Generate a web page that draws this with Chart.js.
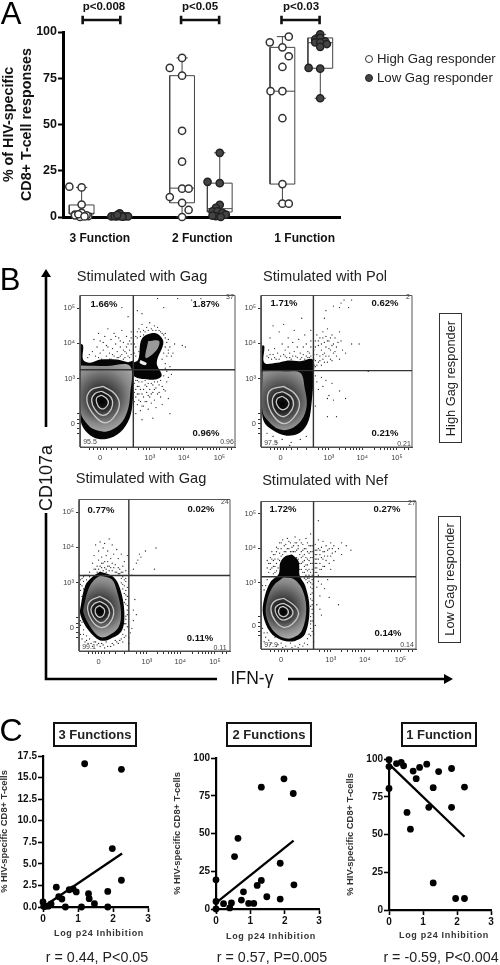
<!DOCTYPE html>
<html>
<head>
<meta charset="utf-8">
<script src="https://cdn.jsdelivr.net/npm/chart.js@4"></script>
<style>
  html, body { margin: 0; background: #fff; }
  #page { position: relative; width: 500px; height: 965px; overflow: hidden; filter: blur(0.45px); font-family: "Liberation Sans", Arial, sans-serif; color: #111; }
  #page canvas { position: absolute; }
  .t { position: absolute; white-space: nowrap; transform: translate(-50%, -50%); line-height: 1; }
  .boxed { position: absolute; border: 2.4px solid #111; box-sizing: border-box; display: flex; align-items: center; justify-content: center; }
  #arrows { position: absolute; left: 0; top: 0; }
</style>
</head>
<body>
<div id="page">
  <svg id="arrows" width="500" height="965">
    <path d="M46 427V276M46 513V679H217M288 679H445" fill="none" stroke="#000" stroke-width="2.6"/>
    <path d="M46 269l-5 8h10zM453 679l-9-5v10z" fill="#000"/>
  </svg>
</div>
<script>
// panel A: function categories
var functionLabels = ['3 Function', '2 Function', '1 Function'];
var responseTicks = [0, 25, 50, 75, 100];

var high3x = [.702, .822, .822, .757, .822, .887, .806, .757, .87, .79, .85];
var high3y = [16.4, 16, 6.7, 1.3, 2.2, .4, 0, .9, .9, 1.5, .3];
var low3x = [1.113, 1.162, 1.194, 1.243, 1.275, 1.145, 1.194, 1.22, 1.17];
var low3y = [.3, .3, 2, .3, .3, .4, .5, .2, 1.1];
var high2x = [1.803, 1.683, 1.803, 1.803, 1.803, 1.803, 1.867, 1.683, 1.803, 1.867, 1.803];
var high2y = [86, 80.6, 76.4, 46.6, 29.9, 15.3, 15.3, 10.8, 7.6, 3.8, 0];
var low2x = [2.171, 2.052, 2.171, 2.171, 2.133, 2.1, 2.149, 2.197, 2.133, 2.23, 2.181, 2.1];
var low2y = [34.7, 19, 18.3, 6.6, 4.9, 3, 3, 2.2, .4, 1.3, 0, .7];
var high1x = [2.845, 2.66, 2.783, 2.845, 2.783, 2.667, 2.783, 2.783, 2.783, 2.783, 2.845];
var high1y = [97.5, 94.4, 91.7, 86.9, 81.1, 68, 68, 53.4, 17.8, 7.2, 7.2];
var low1x = [3.152, 3.103, 3.152, 3.2, 3.103, 3.152, 3.217, 3.152, 3.039, 3.152, 3.152];
var low1y = [98.7, 96, 96.8, 95, 94.4, 94.4, 93.5, 92, 80.6, 80.2, 64.2];

// box stats: center, min, q1, median, q3, max
var boxHigh3 = [.822, 0, 1.6, 2, 6.5, 16];
var boxLow3 = [1.194, 0, .1, .3, .6, 2];
var boxHigh2 = [1.803, 0, 7.7, 15.6, 76.4, 86];
var boxLow2 = [2.171, 0, 2.7, 4.5, 18.3, 34.7];
var boxHigh1 = [2.783, 7.2, 17.8, 68, 91.7, 97.5];
var boxLow1 = [3.153, 64.2, 80.4, 94.2, 96.8, 98.7];

// brackets: from, to
var bracket3 = [.832, 1.2];
var bracket2 = [1.793, 2.165];
var bracket1 = [2.774, 3.146];

// panel B: channels on a 0-100 display axis
var flowTickX = [6, 9, 11, 13, 15, 17, 20, 24, 30, 38, 41, 43, 45, 52, 56, 59, 61, 63, 65, 67, 75, 79, 82, 84, 86, 88, 90, 95, 98];
var flowTickY = [9, 12, 15.4, 18, 22, 44.9, 68.4, 91.6];
var flowLabelsX = { 13: '0', 45: '10³', 67: '10⁴', 90: '10⁵' };
var flowLabelsY = { 15.4: '0', 44.9: '10³', 68.4: '10⁴', 91.6: '10⁵' };

var gagHighOuter = [0,68.4, 2,67, 2,57.7, 6.5,55.6, 13,57.7, 23.7,57.7, 31,56, 34.4,56.6, 34.8,47, 34,30, 32,19, 25.8,9.6, 17,5.3, 8.6,6.4, 2,12.8, 0,21.4, 0,68.4];
var gagHighBody = [.6,53.8, 17,53.4, 32.3,53.4, 32.3,34.2, 30.5,23.5, 25.8,15, 17.2,10.3, 8.6,11.8, 3.2,17, .6,22.4, .6,53.8];
var gagHighRing1 = [15,40, 22.6,35, 25.4,27.8, 21.5,19.2, 16,16, 9.7,20.3, 4.5,30, 6.9,37.4, 15,40];
var gagHighRing2 = [14,36.8, 19.8,33, 21,27.8, 18.3,22.4, 14,21, 9.7,24.6, 7.5,31, 9.7,35.3, 14,36.8];
var gagHighRing3 = [14,34.2, 17.2,32, 18.3,29, 16,25.6, 13,25.6, 10.8,29, 10.8,32.5, 14,34.2];
var gagHighCluster = [34.4,55.5, 37.6,57.7, 40,71.6, 48.4,75.2, 53.8,69.4, 49.5,55.6, 52.7,47, 47.3,44.4, 34.4,47, 34.4,55.5];
var gagHighClusterHole = [44,70, 51,70, 49.5,64, 42.4,58.8, 44,70];
var gagHighClusterSpot = [39,57.5, 43,55.5, 42,54, 38.5,55.5, 39,57.5];
var gagHighDots = [5,59, 8,63, 9,71, 10,60, 11,66, 12,75, 13,62, 14,58, 15,69, 15,64, 16,73, 17,60, 18,66, 18,78, 19,62, 20,71, 20,58, 21,65, 22,75, 22,60, 23,68, 24,63, 25,72, 25,59, 26,66, 27,61, 27,77, 28,69, 29,63, 29,59, 30,73, 30,66, 31,60, 32,70, 32,64, 33,61, 33,76, 33,68,
  6,61, 12,59, 13,70, 17,67, 19,58, 21,61, 23,73, 24,59, 26,60, 28,64, 30,62, 31,68, 32,59, 33,72, 28,58, 26,70,
  36,60, 36,66, 37,72, 38,78, 38,63, 39,76, 40,81, 41,77, 43,79, 45,82, 46,78, 48,80, 50,79, 52,76, 54,74, 55,72, 56,69, 55,66, 57,64, 54,62, 56,60, 58,66, 60,62, 61,68, 66,67, 68,66, 53,58, 55,55, 58,53, 56,50,
  35,62, 35,68, 37,76, 39,73, 41,74, 42,76, 44,77, 47,77, 49,77, 51,77, 53,75, 55,75, 57,71, 57,62, 59,60, 55,52, 54,47, 57,46, 59,48, 36,73,
  35,42, 36,38, 36,33, 37,28, 37,44, 38,40, 38,35, 39,30, 39,24, 40,43, 41,38, 41,33, 41,27, 42,41, 43,36, 43,30, 44,42, 44,25, 45,38, 45,33, 46,29, 47,41, 47,36, 48,31, 49,39, 49,26, 50,43, 51,36, 52,33, 53,40, 53,28, 55,37, 56,43, 57,32, 58,22, 47,19, 40,18, 36,22,
  35,36, 35,30, 36,44, 37,40, 37,35, 38,43, 38,31, 39,38, 40,35, 40,27, 42,44, 42,30, 43,40, 44,34, 46,42, 46,35, 48,43, 48,38, 50,35, 51,41, 52,44, 54,38,
  50,98, 63,98, 72,97, 78,98, 54,92, 37,90, 31,86, 27,92, 40,88];

var polOuter = [.7,67, 2.2,66.7, 2.2,55.6, 10.5,55.6, 17,57, 26,56.6, 34.3,57.7, 34.7,44.9, 33.6,30, 31.4,17, 26,9.6, 17,7.5, 8.4,10.7, 1.8,17, .7,30, .7,67];
var polBody = [1,50, 15,50, 26,49, 29,38.5, 30.3,27.8, 27,18, 19.3,11.8, 11.6,11.8, 5,17, 1,23.5, 1,50];
var polRing1 = [15,40, 22.6,35, 25.5,27.8, 21.5,19.2, 15,15.4, 8.4,20.3, 4.4,30, 6.2,37.4, 15,40];
var polRing2 = [14.5,36.5, 20,33, 21.5,27.5, 18.5,22, 14.5,20, 9.5,23.5, 7.5,30, 9.5,35, 14.5,36.5];
var polRing3 = [14,33.5, 17.5,31, 18.5,28, 16,25, 13,25, 10.5,28, 10.5,31.5, 14,33.5];
var polDots = [4,60, 5,64, 6,72, 7,58, 8,61, 8,80, 9,65, 10,58, 11,62, 12,76, 13,60, 14,68, 15,61, 15,81, 16,64, 17,59, 18,72, 18,66, 19,62, 20,58, 21,69, 22,63, 22,77, 23,60, 24,66, 25,71, 26,62, 27,59, 27,85, 28,66, 29,74, 30,60, 30,68, 31,63, 32,59, 33,77, 33,66, 33,70,
  5,59, 6,61, 9,59, 12,58, 16,60, 19,59, 21,60, 24,59, 26,58, 28,61, 29,58, 31,59, 32,62, 33,60,
  35,58, 35,64, 36,70, 36,53, 37,61, 37,74, 38,56, 38,67, 39,60, 39,72, 40,64, 40,54, 41,76, 41,58, 42,69, 42,62, 43,73, 43,66, 44,56, 44,78, 45,60, 45,70, 46,64, 47,74, 47,57, 48,68, 48,62, 49,72, 50,60, 50,66, 52,76, 52,58, 53,70, 54,64, 56,62, 60,68, 65,68, 71,50,
  35,54, 35,61, 36,57, 36,66, 37,54, 38,70, 39,57, 40,68, 41,61, 41,72, 42,56, 43,60, 44,70, 45,65, 46,58, 46,72, 47,67, 49,63, 51,69,
  36,47, 37,43, 38,38, 40,46, 41,40, 43,44, 45,34, 47,42, 48,31, 52,37, 44,32, 36,27, 44,20, 50,20, 56,32,
  55,97, 53,95, 60,97, 48,93, 52,92, 58,92, 43,90, 42,85, 5,14, 4,9, 8,7, 14,5, 20,3, 26,5, 30,7, 19,1, 10,3];

var gagLowOuter = [14,52.4, 23,48.7, 27.3,41, 30,26.3, 28.4,13.5, 20.7,8, 14,7, 6.4,13.5, .9,24, 1.3,30.6, 4.2,43.4, 8.6,48.7, 14,52.4];
var gagLowBody = [14,49.8, 21.8,47.2, 25,40, 27.8,26.3, 26.2,15.6, 19.6,10.3, 14,9.2, 8,15.2, 3,25.2, 3.5,30.6, 6.4,41.2, 9.7,46.6, 14,49.8];
var gagLowRing1 = [14,36, 20.7,31.6, 23,25, 19.6,17.7, 14,15.6, 8.6,19.9, 5.7,27.4, 7.5,33, 14,36];
var gagLowRing2 = [14,32.7, 18.5,30, 20.3,25.2, 17.4,19.9, 13.7,18.8, 9.7,22.4, 7.9,27.4, 10,31.2, 14,32.7];
var gagLowRing3 = [13.7,30, 16.8,27.4, 16.3,23.7, 13.2,22.4, 10.8,25.2, 11.2,28.4, 13.7,30];
var gagLowDots = [7,52, 9,58, 10,54, 10,63, 11,70, 12,56, 13,60, 13,66, 14,72, 15,55, 15,62, 16,58, 16,68, 17,71, 18,54, 18,63, 19,59, 19,66, 20,74, 20,56, 21,61, 22,53, 22,58, 22,70, 23,64, 24,52, 24,57, 25,67, 26,55, 26,61, 27,51, 28,64, 29,49, 29,56, 30,59, 31,46, 31,53, 32,63,
  11,54, 12,52, 13,54, 14,56, 15,58, 16,53, 17,55, 17,59, 18,52, 19,56, 20,53, 21,55, 23,55, 25,52, 26,51, 27,54, 28,48, 29,52, 30,47, 30,43, 31,40, 29,41, 28,45, 31,34, 32,30,
  2,48, 3,46, 1,44, 1,40, 2,36, 0,33, 0,20, 1,17, 2,19, 3,14, 3,11, 5,10, 5,7, 7,8, 8,5, 10,6, 12,4, 14,3, 16,4, 18,6, 19,3, 22,5, 24,7, 26,5, 28,8, 29,11, 31,10, 30,14, 31,18, 32,16, 31,23, 32,27, 31,31, 32,36, 30,38, 32,42, 31,48, 29,44, 3,41, 5,47, 6,50, 28,52,
  1,47, 2,43, 0,38, 0,28, 0,24, 1,20, 1,11, 2,8, 4,6, 6,5, 9,3, 11,6, 13,5, 15,5, 17,2, 21,3, 23,4, 25,6, 27,7, 29,6, 30,9, 30,18, 31,21, 32,24, 30,32, 31,37, 4,50, 5,44, 7,49, 3,49,
  35,15, 36,20, 36,27, 37,34, 38,24, 33,9, 33,5, 34,12,
  35,50, 36,54, 38,58, 39,60, 41,62, 40,64, 44,66, 51,68, 50,54];

var nefOuter = [20,64, 24.2,59.5, 25,49.7, 28.5,43, 31.3,27.8, 28.5,10.3, 22,5.5, 13.5,6, 6,11.4, 1.3,23.4, 2.1,34.4, 6,45.3, 11.4,50.8, 12.4,58.4, 15.7,62.8, 20,64];
var nefBody = [14.6,48.6, 21,47.5, 26.4,41, 29.2,27.8, 26.4,12.5, 20,7.4, 13.5,8, 7,13.6, 3.2,23.4, 4,33.3, 8.2,43, 14.6,48.6];
var nefRing1 = [14.6,34.4, 22,28.9, 24.2,23.4, 20,16.8, 14.6,14.7, 9.2,19, 6.4,26.7, 8.6,32.2, 14.6,34.4];
var nefRing2 = [14.6,31, 19.3,27.8, 20.6,23.9, 17.8,20.8, 13.5,19.7, 9.9,23.4, 9.2,27.8, 11.4,30, 14.6,31];
var nefRing3 = [14.2,28.9, 17.2,26.7, 17.2,23.4, 14,21.9, 11.4,24.5, 12,27.8, 14.2,28.9];
var nefDots = [5,52, 5,58, 6,62, 7,55, 7,66, 8,51, 8,60, 9,56, 9,64, 10,69, 10,53, 11,61, 12,65, 12,72, 13,68, 14,64, 14,74, 15,70, 16,66, 17,75, 18,68, 19,72, 20,66, 21,70, 22,76, 22,66, 23,62, 23,72, 24,68, 25,64, 25,58, 25,74, 26,62, 26,54, 27,67, 27,59, 27,71, 28,52, 28,64, 29,57, 29,68, 29,75, 30,61, 30,53, 30,72, 31,65, 31,50, 32,58, 32,70, 32,78, 33,62, 33,54, 33,66,
  4,55, 4,60, 6,54, 6,58, 7,61, 8,56, 8,64, 9,52, 9,61, 10,58, 10,66, 11,55, 11,68, 12,60, 13,63, 13,72, 15,66, 16,71, 17,68, 18,73, 19,66, 20,69, 21,66, 22,72, 23,67, 24,61, 24,70, 25,54, 26,58, 26,66, 26,72, 27,52, 27,63, 28,56, 28,60, 28,68, 29,50, 29,54, 29,62, 30,57, 30,66, 31,54, 31,60, 31,70, 32,52, 32,62, 32,66, 33,50, 33,58, 33,70,
  35,52, 35,58, 35,64, 35,71, 36,55, 36,61, 36,67, 37,74, 37,50, 38,58, 38,64, 39,69, 39,54, 40,61, 40,73, 41,66, 41,56, 42,70, 43,63, 44,68, 44,58, 45,72, 46,65, 47,70, 47,60, 48,66, 50,68, 52,72, 52,64, 55,70, 58,67, 45,54, 37,87,
  35,55, 35,61, 35,67, 36,52, 36,58, 36,64, 37,61, 37,68, 38,54, 38,67, 39,62, 40,56, 40,66, 41,63, 42,60, 43,67, 45,63, 46,68,
  1,43, 2,40, 3,43, 4,47, 0,30, 0,18, 1,14, 2,11, 3,8, 4,11, 5,6, 7,4, 9,8, 11,3, 13,4, 16,2, 19,4, 22,2, 25,3, 28,4, 30,7, 31,10, 32,14, 32,19, 33,24, 33,30, 32,34, 33,38, 32,42, 31,46, 33,47, 30,45, 28,48, 34,10, 34,5, 35,16, 36,30, 36,42, 37,46, 38,36, 38,27, 39,44, 41,41, 44,35, 43,47, 50,30, 39,23,
  32,9, 33,12, 32,17, 33,19, 32,22, 33,27, 32,29, 33,33, 32,37, 33,41, 32,45, 31,48, 30,48, 33,44, 29,47, 30,3, 27,2, 24,1, 20,1, 14,1, 10,2, 6,3, 2,5];

// gates: vertical and horizontal position of the quadrant lines
var gateGagHigh = [34.4, 51];
var gatePol = [34.7, 50.4];
var gateGagLow = [33, 49.8];
var gateNef = [33.9, 49];

// panel C: log p24 inhibition against % of responses
var fn3Inhibition = [0, .02, .05, .15, .23, .38, .45, .54, .64, .75, .86, .95, 1.1, 1.19, 1.3, 1.32, 1.47, 1.85, 1.85, 1.98, 2.24, 2.24];
var fn3Percent = [.58, .1, .05, .1, .35, 2.3, 1.2, .93, 0, 2, 2.1, 1.75, 0, 16.6, 1.55, .97, .39, 1.8, 0, 6.77, 15.95, 3.1];
var fn3Fit = [0, 0, 2.26, 6.2];
var fn2Inhibition = [0, 0, 0, .22, .4, .45, .54, .64, .74, .8, .95, 1.1, 1.2, 1.32, 1.32, 1.48, 1.87, 1.87, 1.98, 2.25, 2.27];
var fn2Percent = [19.3, 5, 0, 3.5, .7, 4, 34.7, 46.8, 5.9, 11.4, 3.7, 3.7, 15.6, 80.7, 18.9, 8.1, 30.3, 6.6, 86.2, 76.5, 16];
var fn2Fit = [0, 4, 2.26, 45.3];
var fn1Inhibition = [0, 0, 0, .22, .36, .43, .53, .63, .71, .8, .9, 1.11, 1.17, 1.3, 1.3, 1.46, 1.84, 1.84, 1.96, 2.22, 2.22];
var fn1Percent = [99.5, 95, 80.5, 97, 97.8, 95.5, 64.6, 53.5, 92, 87, 94.4, 96.6, 68, 81, 17.9, 91.7, 93.7, 68, 7.6, 7.6, 81.4];
var fn1Fit = [0, 96.6, 2.22, 48.5];

var FONT = '"Liberation Sans", Arial, sans-serif';
Chart.defaults.font.family = FONT;
Chart.defaults.animation = false;
Chart.defaults.responsive = false;
Chart.defaults.events = [];
Chart.defaults.plugins.legend.display = false;
Chart.defaults.plugins.tooltip.enabled = false;

var page = document.getElementById('page');

function text(str, x, y, css) {
  var el = document.createElement('div');
  el.className = 't';
  el.textContent = str;
  el.style.left = x + 'px';
  el.style.top = y + 'px';
  el.style.cssText += css || '';
  page.appendChild(el);
  return el;
}

function boxed(str, l, t, w, h, css) {
  var el = document.createElement('div');
  el.className = 'boxed';
  el.style.cssText = 'left:' + l + 'px;top:' + t + 'px;width:' + w + 'px;height:' + h + 'px;' + (css || '');
  var s = document.createElement('span');
  s.textContent = str;
  el.appendChild(s);
  page.appendChild(el);
  return s;
}

// canvas placed on the page, axis box pinned so the plot area lands where the figure has it
function chartAt(left, top, width, height, config) {
  var c = document.createElement('canvas');
  c.width = width;
  c.height = height;
  c.style.left = left + 'px';
  c.style.top = top + 'px';
  page.appendChild(c);
  return new Chart(c.getContext('2d'), config);
}

function pairs(flat) {
  var out = [];
  for (var i = 0; i < flat.length; i += 2) out.push({ x: flat[i], y: flat[i + 1] });
  return out;
}

function zip(xs, ys) {
  return xs.map(function (x, i) { return { x: x, y: ys[i] }; });
}

function lineSet(data, color, width) {
  return { data: data, showLine: true, pointRadius: 0, borderColor: color, borderWidth: width, clip: false, fill: false };
}

// ---------- panel A ----------
function boxShape(b) {
  var c = b[0], hw = .121, cap = .055;
  return [
    { x: c - hw, y: b[2] }, { x: c + hw, y: b[2] }, { x: c + hw, y: b[4] }, { x: c - hw, y: b[4] }, { x: c - hw, y: b[2] }, { x: c, y: null },
    { x: c - hw, y: b[3] }, { x: c + hw, y: b[3] }, { x: c, y: null },
    { x: c, y: b[1] }, { x: c, y: b[2] }, { x: c, y: null },
    { x: c, y: b[4] }, { x: c, y: b[5] }, { x: c, y: null },
    { x: c - cap, y: b[5] }, { x: c + cap, y: b[5] }, { x: c, y: null },
    { x: c - cap, y: b[1] }, { x: c + cap, y: b[1] }
  ];
}

function bracketShape(b) {
  return [
    { x: b[0], y: 108.8 }, { x: b[0], y: 104.2 }, { x: b[0], y: null },
    { x: b[0], y: 106.5 }, { x: b[1], y: 106.5 }, { x: b[1], y: null },
    { x: b[1], y: 108.8 }, { x: b[1], y: 104.2 }
  ];
}

function dots(data, fill, stroke) {
  return { data: data, pointRadius: 3.6, pointBorderWidth: 1.5, pointBackgroundColor: fill, pointBorderColor: stroke, clip: false };
}

var highFill = '#fff', highStroke = '#333', lowFill = '#444', lowStroke = '#222';

chartAt(0, 0, 350, 250, {
  type: 'scatter',
  data: {
    datasets: [
      dots(zip(low1x, low1y), lowFill, lowStroke),
      dots(zip(high1x, high1y), highFill, highStroke),
      dots(zip(low2x, low2y), lowFill, lowStroke),
      dots(zip(high2x, high2y), highFill, highStroke),
      dots(zip(low3x, low3y), lowFill, lowStroke),
      dots(zip(high3x, high3y), highFill, highStroke),
      lineSet(boxShape(boxHigh3), '#444', 1),
      lineSet(boxShape(boxLow3), '#444', 1),
      lineSet(boxShape(boxHigh2), '#444', 1),
      lineSet(boxShape(boxLow2), '#444', 1),
      lineSet(boxShape(boxHigh1), '#444', 1),
      lineSet(boxShape(boxLow1), '#444', 1),
      lineSet(bracketShape(bracket3), '#111', 2.6),
      lineSet(bracketShape(bracket2), '#111', 2.6),
      lineSet(bracketShape(bracket1), '#111', 2.6)
    ]
  },
  options: {
    layout: { padding: { top: 32, right: 8 } },
    scales: {
      x: {
        type: 'linear', min: .64, max: 3.35,
        afterFit: function (s) { s.height = 33; },
        afterBuildTicks: function (s) { s.ticks = [{ value: 1 }, { value: 2 }, { value: 3 }]; },
        ticks: { autoSkip: false, maxRotation: 0, padding: 14, color: '#111', font: { size: 12, weight: 'bold' },
          callback: function (v) { return functionLabels[v - 1]; } },
        grid: { drawOnChartArea: false, drawTicks: false },
        border: { width: 3, color: '#000' }
      },
      y: {
        min: 0, max: 100,
        afterFit: function (s) { s.width = 63; },
        afterBuildTicks: function (s) { s.ticks = responseTicks.map(function (v) { return { value: v }; }); },
        title: { display: true, text: ['% of HIV-specific', 'CD8+ T-cell responses'], color: '#111', padding: 0, font: { size: 14.3, weight: 'bold', lineHeight: 1.25 } },
        ticks: { color: '#111', padding: 1, font: { size: 12.5, weight: 'bold' } },
        grid: { drawOnChartArea: false, tickLength: 5, tickWidth: 2, tickColor: '#000' },
        border: { width: 3, color: '#000' }
      }
    }
  }
});

text('A', 11, 13, 'font-size:31px;color:#000');
text('p<0.008', 104, 7, 'font-size:11.5px;font-weight:bold');
text('p<0.05', 200, 7, 'font-size:11.5px;font-weight:bold');
text('p<0.03', 301, 7, 'font-size:11.5px;font-weight:bold');

// legend, drawn next to the plot as in the figure
function legendRow(y, label, fill, stroke) {
  var m = document.createElement('div');
  m.style.cssText = 'position:absolute;box-sizing:border-box;width:8px;height:8px;border-radius:50%;left:365px;top:' + (y - 4) + 'px;border:1.3px solid ' + stroke + ';background:' + fill;
  page.appendChild(m);
  var t = text(label, 377, y, 'font-size:13.2px;color:#222');
  t.style.transform = 'translate(0,-50%)';
}
legendRow(59, 'High Gag responder', highFill, highStroke);
legendRow(78, 'Low Gag responder', lowFill, lowStroke);

// ---------- panel B ----------
var shadeStops = [[0, '#000'], [.1, '#111'], [.25, '#4a4a4a'], [.45, '#888'], [.62, '#a8a8a8'], [.76, '#777'], [.9, '#222'], [1, '#000']];

function shaded(cx, cy, radius) {
  return function (ctx) {
    var ch = ctx.chart;
    if (!ch.chartArea) return '#888';
    var px = ch.scales.x.getPixelForValue(cx), py = ch.scales.y.getPixelForValue(cy);
    var g = ch.ctx.createRadialGradient(px, py, 0, px, py - 12, radius);
    shadeStops.forEach(function (s) { g.addColorStop(s[0], s[1]); });
    return g;
  };
}

function filled(data, color) {
  return { data: pairs(data), showLine: true, pointRadius: 0, borderWidth: 0, borderColor: 'transparent', backgroundColor: color, fill: 'shape', tension: .35 };
}

function ring(data) {
  return { data: pairs(data), showLine: true, pointRadius: 0, borderWidth: 1.3, borderColor: '#c8c8c8', fill: false, tension: .4 };
}

function flowPlot(l, t, w, h, gate, layers) {
  var box = [{ x: 0, y: 0 }, { x: 100, y: 0 }, { x: 100, y: 100 }, { x: 0, y: 100 }, { x: 0, y: 0 }];
  var gates = [
    { x: gate[0], y: 0 }, { x: gate[0], y: 100 }, { x: gate[0], y: null },
    { x: 0, y: gate[1] }, { x: 100, y: gate[1] }
  ];
  chartAt(l - 24, t - 2, w + 30, h + 24, {
    type: 'scatter',
    data: { datasets: [lineSet(gates, '#333', 1.4), lineSet(box, '#555', 1)].concat(layers) },
    options: {
      layout: { padding: { top: 2, right: 6 } },
      scales: {
        x: {
          type: 'linear', min: 0, max: 100,
          afterFit: function (s) { s.height = 22; },
          afterBuildTicks: function (s) { s.ticks = flowTickX.map(function (v) { return { value: v }; }); },
          ticks: { autoSkip: false, maxRotation: 0, padding: 3, color: '#444', font: { size: 7.5 },
            callback: function (v) { return flowLabelsX[v] || ''; } },
          grid: { drawOnChartArea: false, tickLength: 3, tickWidth: 1, tickColor: '#333' },
          border: { width: 1, color: '#444' }
        },
        y: {
          min: 0, max: 100,
          afterFit: function (s) { s.width = 24; },
          afterBuildTicks: function (s) { s.ticks = flowTickY.map(function (v) { return { value: v }; }); },
          ticks: { autoSkip: false, padding: 2, color: '#444', font: { size: 7.5 },
            callback: function (v) { return flowLabelsY[v] || ''; } },
          grid: { drawOnChartArea: false, tickLength: 3, tickWidth: 1, tickColor: '#333' },
          border: { width: 1, color: '#444' }
        }
      }
    }
  });
}

function flowDots(data) {
  return { data: pairs(data), pointRadius: .65, pointBorderWidth: 0, pointBackgroundColor: '#222' };
}

flowPlot(80, 291, 155, 156, gateGagHigh, [
  ring(gagHighRing3), ring(gagHighRing2), ring(gagHighRing1),
  filled(gagHighBody, shaded(14, 30, 62)),
  filled(gagHighClusterSpot, '#eee'),
  filled(gagHighClusterHole, '#999'),
  filled(gagHighCluster, '#050505'),
  filled(gagHighOuter, '#050505'),
  flowDots(gagHighDots)
]);
flowPlot(261, 291, 151, 156, gatePol, [
  ring(polRing3), ring(polRing2), ring(polRing1),
  filled(polBody, shaded(14, 28, 62)),
  filled(polOuter, '#050505'),
  flowDots(polDots)
]);
flowPlot(79, 495, 151, 156, gateGagLow, [
  ring(gagLowRing3), ring(gagLowRing2), ring(gagLowRing1),
  filled(gagLowBody, shaded(14, 26, 54)),
  filled(gagLowOuter, '#050505'),
  flowDots(gagLowDots)
]);
flowPlot(261, 497, 155, 152, gateNef, [
  ring(nefRing3), ring(nefRing2), ring(nefRing1),
  filled(nefBody, shaded(14, 25, 54)),
  filled(nefOuter, '#050505'),
  flowDots(nefDots)
]);

var titleCss = 'font-size:14.6px;color:#222';
text('Stimulated with Gag', 142, 276, titleCss);
text('Stimulated with Pol', 325, 276, titleCss);
text('Stimulated with Gag', 141, 478, titleCss);
text('Stimulated with Nef', 325, 480, titleCss);

var pctCss = 'font-size:9.5px;font-weight:bold';
[['1.66%', 104, 304], ['1.87%', 206, 304], ['0.96%', 206, 433],
 ['1.71%', 284, 303], ['0.62%', 385, 303], ['0.21%', 385, 433],
 ['0.77%', 101, 510], ['0.02%', 201, 509], ['0.11%', 200, 638],
 ['1.72%', 283, 509], ['0.27%', 387, 509], ['0.14%', 388, 633]].forEach(function (p) { text(p[0], p[1], p[2], pctCss); });

var cornerCss = 'font-size:7px;color:#444';
[['37', 230, 296], ['2', 408, 296], ['24', 225, 501], ['27', 412, 502],
 ['95.5', 90, 441], ['97.5', 271, 442], ['99.1', 89, 646], ['97.9', 271, 644],
 ['0.96', 227, 441], ['0.21', 404, 443], ['0.11', 220, 647], ['0.14', 407, 644]].forEach(function (p) { text(p[0], p[1], p[2], cornerCss); });

text('B', 10, 279, 'font-size:31px;color:#000');
text('CD107a', 46, 478, 'font-size:18px;color:#111;transform:translate(-50%,-50%) rotate(-90deg)');
text('IFN-γ', 252, 679, 'font-size:17.5px;color:#111');

var highBox = boxed('High Gag responder', 439, 313, 23, 130, 'border-width:1.4px;border-color:#333');
highBox.style.cssText = 'font-size:12.8px;color:#222;white-space:nowrap;transform:rotate(-90deg)';
var lowBox = boxed('Low Gag responder', 438, 516, 23, 127, 'border-width:1.4px;border-color:#333');
lowBox.style.cssText = 'font-size:12.8px;color:#222;white-space:nowrap;transform:rotate(-90deg)';

// ---------- panel C ----------
function correlationPlot(left, top, width, yMax, yStep, decimals, pts, fit) {
  var axisLeft = 44, plotHeight = 151;
  chartAt(left - axisLeft, top - 8, axisLeft + width + 8, 8 + plotHeight + 22, {
    type: 'scatter',
    data: {
      datasets: [
        { data: pts, pointRadius: 3.4, pointBorderWidth: 0, pointBackgroundColor: '#000', clip: false },
        lineSet([{ x: fit[0], y: fit[1] }, { x: fit[2], y: fit[3] }], '#000', 2.3)
      ]
    },
    options: {
      layout: { padding: { top: 8, right: 8 } },
      scales: {
        x: {
          type: 'linear', min: 0, max: 3,
          afterFit: function (s) { s.height = 22; },
          ticks: { stepSize: 1, padding: 1, color: '#111', font: { size: 10, weight: 'bold' } },
          grid: { drawOnChartArea: false, tickLength: 5, tickWidth: 1.6, tickColor: '#000' },
          border: { width: 2.2, color: '#000' }
        },
        y: {
          min: 0, max: yMax,
          afterFit: function (s) { s.width = axisLeft; },
          title: { display: true, text: '% HIV-specific CD8+ T-cells', color: '#333', padding: 0, font: { size: 9.4, weight: 'bold' } },
          ticks: { stepSize: yStep, padding: 1, color: '#111', font: { size: 10, weight: 'bold' },
            callback: function (v) { return v.toFixed(decimals); } },
          grid: { drawOnChartArea: false, tickLength: 5, tickWidth: 1.6, tickColor: '#000' },
          border: { width: 2.2, color: '#000' }
        }
      }
    }
  });
}

correlationPlot(43, 756, 105, 17.5, 2.5, 1, zip(fn3Inhibition, fn3Percent), fn3Fit);
correlationPlot(216, 758, 103, 100, 25, 0, zip(fn2Inhibition, fn2Percent), fn2Fit);
correlationPlot(389, 759, 102, 100, 25, 0, zip(fn1Inhibition, fn1Percent), fn1Fit);

var xTitleCss = 'font-size:9px;font-weight:bold;letter-spacing:.7px;color:#333';
text('Log p24 Inhibition', 99, 933, xTitleCss);
text('Log p24 Inhibition', 271, 936, xTitleCss);
text('Log p24 Inhibition', 444, 935, xTitleCss);

text('C', 11, 730, 'font-size:32px;color:#000');

var headCss = 'font-size:13px;font-weight:bold;color:#222';
boxed('3 Functions', 53, 722, 84, 25).style.cssText = headCss;
boxed('2 Functions', 226, 722, 86, 25).style.cssText = headCss;
boxed('1 Function', 401, 722, 76, 25).style.cssText = headCss;

var statCss = 'font-size:14.3px;color:#222';
text('r = 0.44, P<0.05', 97, 957, statCss);
text('r = 0.57, P=0.005', 272, 957, statCss);
text('r = -0.59, P<0.004', 441, 957, statCss);
</script>
</body>
</html>
